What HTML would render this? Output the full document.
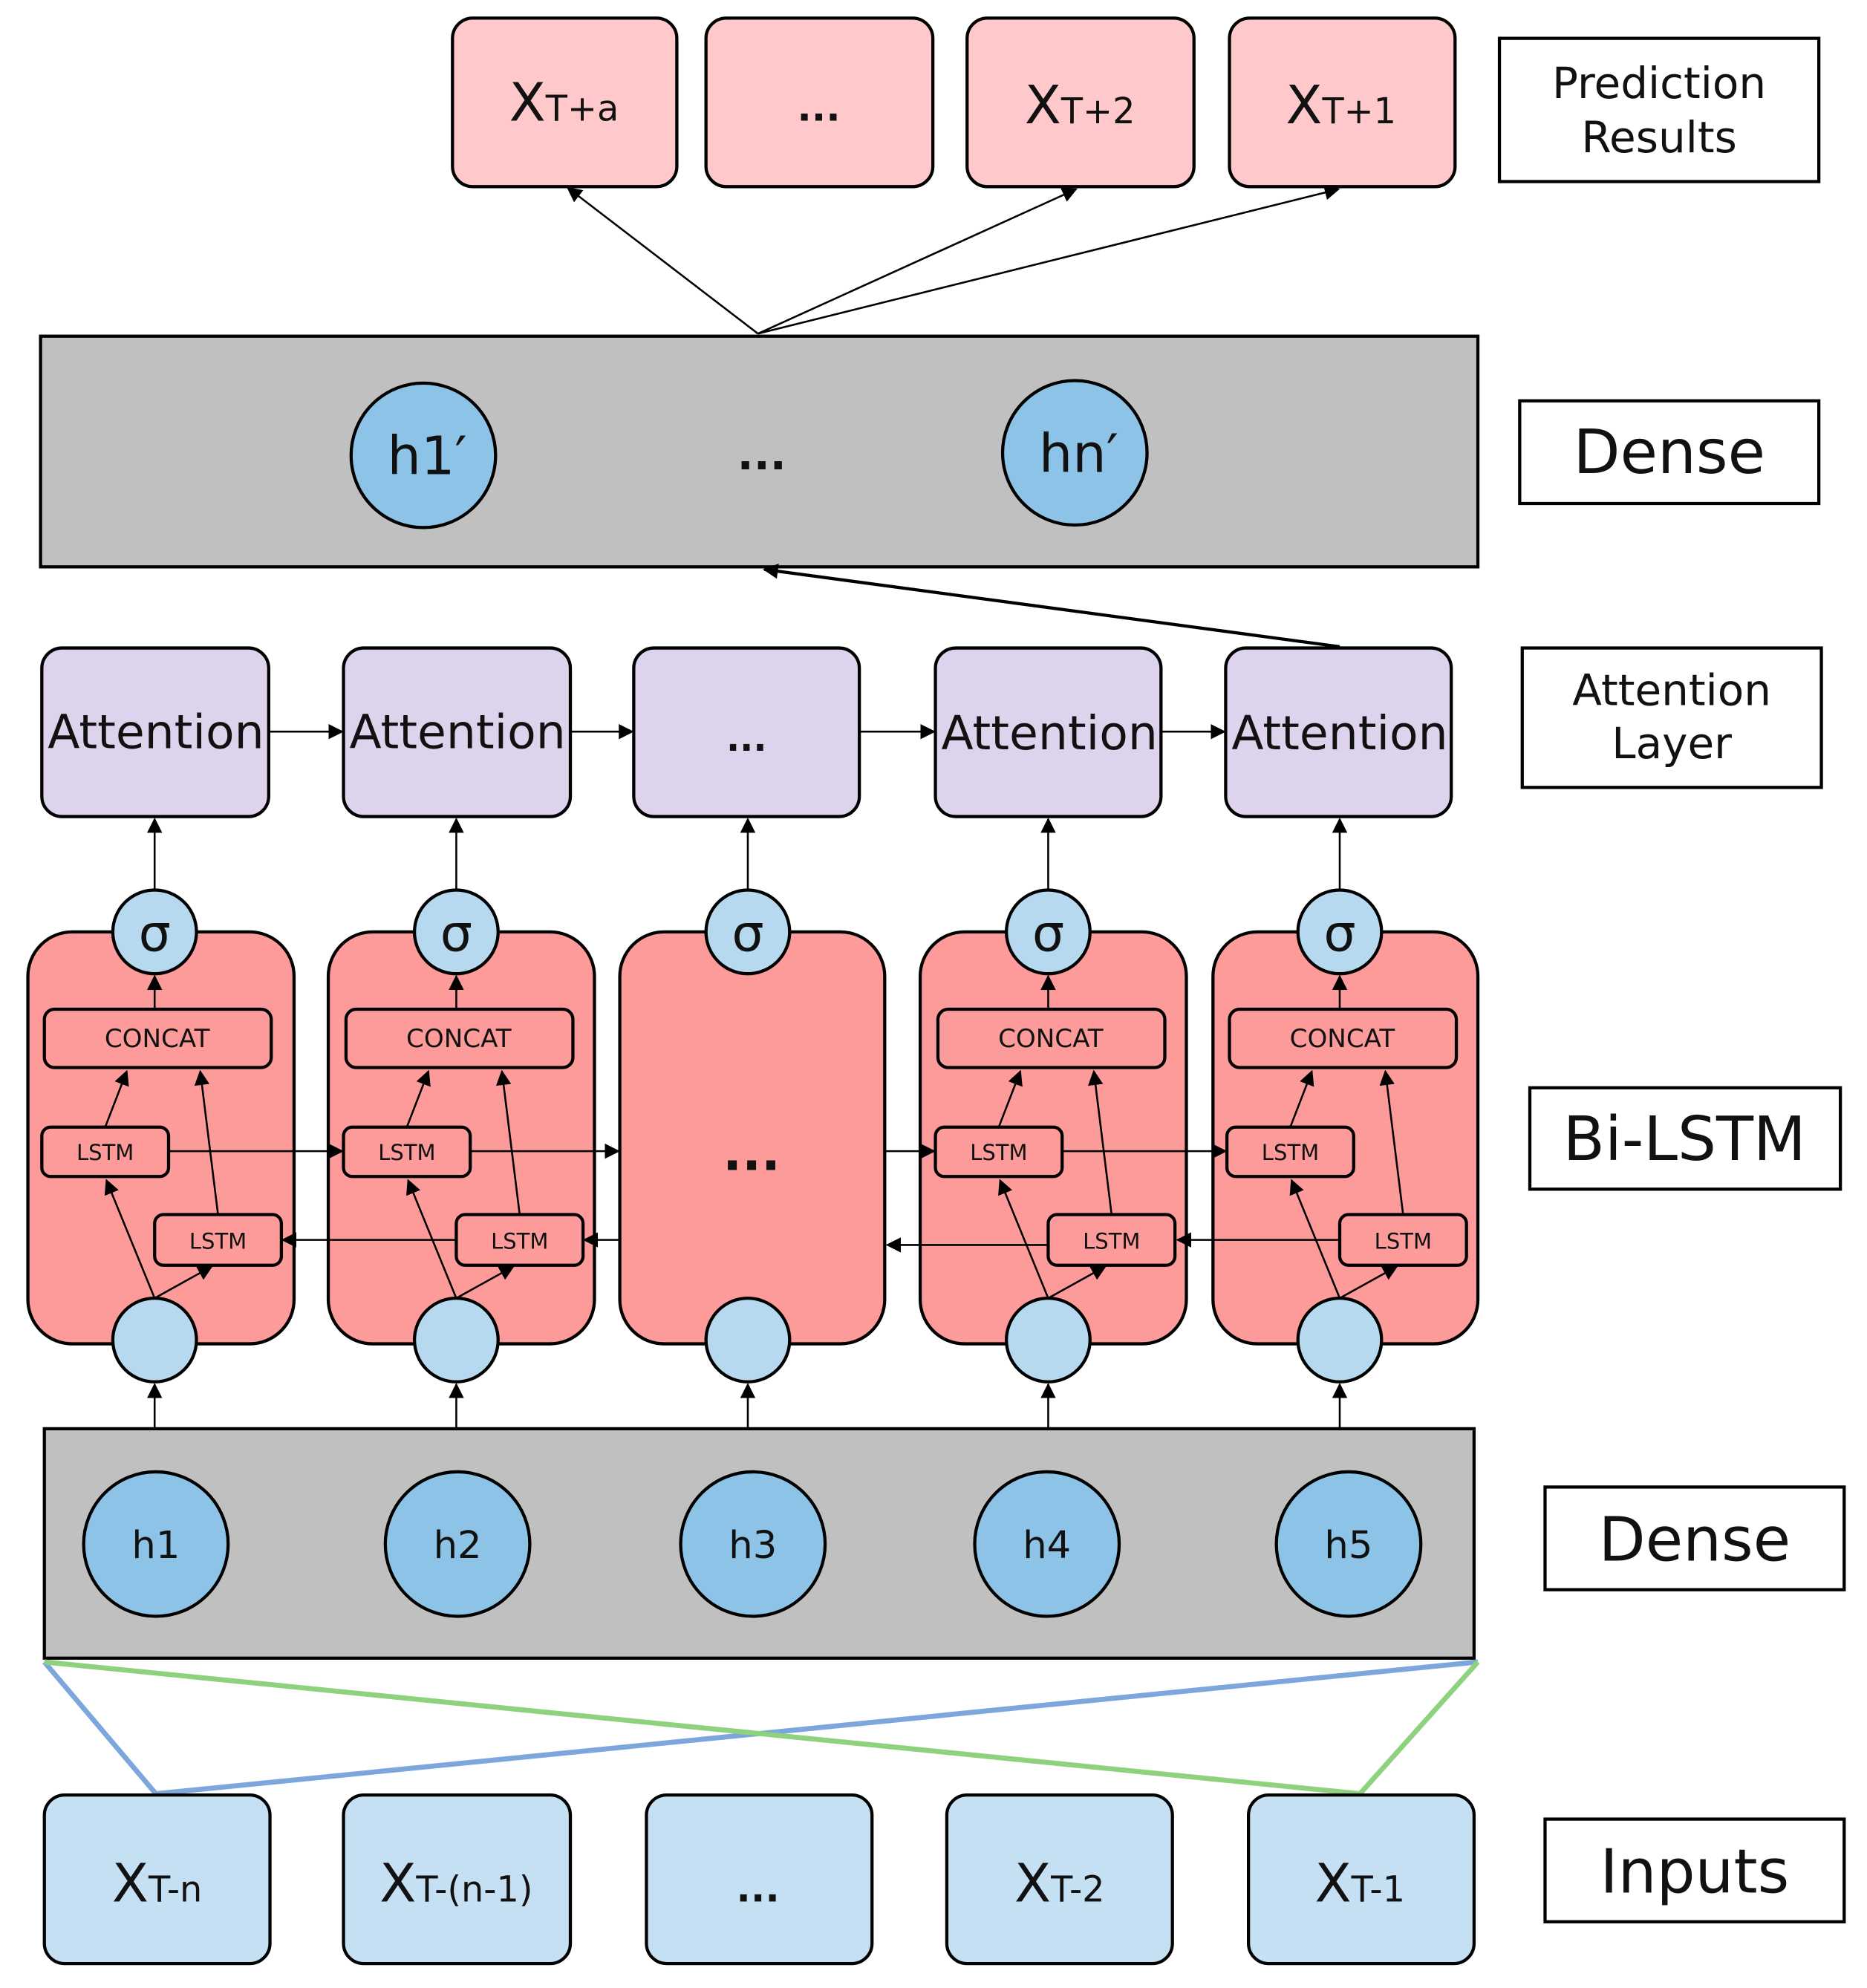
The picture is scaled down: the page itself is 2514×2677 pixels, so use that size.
<!DOCTYPE html>
<html><head><meta charset="utf-8"><style>
html,body{margin:0;padding:0;background:#fff;}
svg{display:block;}
text{font-family:"DejaVu Sans","Liberation Sans",sans-serif;fill:#111;}
.d{font-weight:bold;}
</style></head><body>
<svg width="2514" height="2677" viewBox="0 0 1473 1568" xmlns="http://www.w3.org/2000/svg">
<defs>
<marker id="b" viewBox="0 0 10 10" refX="9" refY="5" markerWidth="12" markerHeight="12" orient="auto" markerUnits="userSpaceOnUse"><path d="M0,0L10,5L0,10z" fill="#000"/></marker>
</defs>
<g stroke="#000" stroke-width="2.5" fill="#ffc9cb">
<rect x="357" y="14" width="177" height="133" rx="16"/>
<rect x="557" y="14" width="179" height="133" rx="16"/>
<rect x="763" y="14" width="179" height="133" rx="16"/>
<rect x="970" y="14" width="178" height="133" rx="16"/>
</g>
<text x="445" y="95" font-size="42" text-anchor="middle">X<tspan font-size="28">T+a</tspan></text>
<text class="d" x="646" y="95" font-size="30" text-anchor="middle">...</text>
<text x="852" y="97" font-size="42" text-anchor="middle">X<tspan font-size="28">T+2</tspan></text>
<text x="1058" y="97" font-size="42" text-anchor="middle">X<tspan font-size="28">T+1</tspan></text>
<g fill="#fff" stroke="#000" stroke-width="2.5">
<rect x="1183" y="30" width="252" height="113"/>
<rect x="1199" y="316" width="236" height="81"/>
<rect x="1201" y="511" width="236" height="110"/>
<rect x="1207" y="858" width="245" height="80"/>
<rect x="1219" y="1173" width="236" height="81"/>
<rect x="1219" y="1435" width="236" height="81"/>
</g>
<text x="1309" y="77" font-size="34" text-anchor="middle">Prediction</text>
<text x="1309" y="120" font-size="34" text-anchor="middle">Results</text>
<text x="1317" y="373" font-size="48" text-anchor="middle">Dense</text>
<text x="1319" y="556" font-size="34" text-anchor="middle">Attention</text>
<text x="1319" y="598" font-size="34" text-anchor="middle">Layer</text>
<text x="1329" y="915" font-size="48" text-anchor="middle">Bi-LSTM</text>
<text x="1337" y="1231" font-size="48" text-anchor="middle">Dense</text>
<text x="1337" y="1493" font-size="48" text-anchor="middle">Inputs</text>
<g stroke="#000" stroke-width="1.5" marker-end="url(#b)">
<line x1="598" y1="263" x2="448" y2="148"/>
<line x1="598" y1="263" x2="849" y2="149"/>
<line x1="598" y1="263" x2="1056" y2="149"/>
</g>
<rect x="32" y="265" width="1134" height="182" fill="#c0c0c0" stroke="#000" stroke-width="2.5"/>
<circle cx="334" cy="359" r="57" fill="#8dc3e6" stroke="#000" stroke-width="2.5"/>
<circle cx="848" cy="357" r="57" fill="#8dc3e6" stroke="#000" stroke-width="2.5"/>
<text x="337" y="374" font-size="42" text-anchor="middle">h1′</text>
<text x="851" y="372" font-size="42" text-anchor="middle">hn′</text>
<text class="d" x="601" y="370" font-size="34" text-anchor="middle">...</text>
<line x1="1057" y1="510" x2="603" y2="449" stroke="#000" stroke-width="2.5" marker-end="url(#b)"/>
<g stroke="#000" stroke-width="2.5" fill="#ddd3ec">
<rect x="33" y="511" width="179" height="133" rx="16"/>
<rect x="271" y="511" width="179" height="133" rx="16"/>
<rect x="500" y="511" width="178" height="133" rx="16"/>
<rect x="738" y="511" width="178" height="133" rx="16"/>
<rect x="967" y="511" width="178" height="133" rx="16"/>
</g>
<g font-size="37" text-anchor="middle">
<text x="123" y="590">Attention</text>
<text x="361" y="590">Attention</text>
<text class="d" x="589" y="592" font-size="28">...</text>
<text x="828" y="591">Attention</text>
<text x="1057" y="591">Attention</text>
</g>
<g stroke="#000" stroke-width="1.5" marker-end="url(#b)">
<line x1="212" y1="577" x2="270" y2="577"/>
<line x1="450" y1="577" x2="499" y2="577"/>
<line x1="678" y1="577" x2="737" y2="577"/>
<line x1="916" y1="577" x2="966" y2="577"/>
</g>
<g stroke="#000" stroke-width="2.5" fill="#fd9a9a">
<rect x="22" y="735" width="210" height="325" rx="35"/>
<rect x="259" y="735" width="210" height="325" rx="35"/>
<rect x="489" y="735" width="209" height="325" rx="35"/>
<rect x="726" y="735" width="210" height="325" rx="35"/>
<rect x="957" y="735" width="209" height="325" rx="35"/>
</g>
<text class="d" x="593" y="923" font-size="40" text-anchor="middle">...</text>
<g id="c1">
<g stroke="#000" stroke-width="1.5">
<line x1="122" y1="702" x2="122" y2="646" marker-end="url(#b)"/>
<line x1="122" y1="796" x2="122" y2="770" marker-end="url(#b)"/>
<line x1="83" y1="889" x2="100" y2="845" marker-end="url(#b)"/>
<line x1="172" y1="958" x2="158" y2="845" marker-end="url(#b)"/>
<line x1="122" y1="1024" x2="84" y2="931" marker-end="url(#b)"/>
<line x1="122" y1="1024" x2="167" y2="999" marker-end="url(#b)"/>
<line x1="122" y1="1127" x2="122" y2="1092" marker-end="url(#b)"/>
</g>
<g stroke="#000" stroke-width="2.5" fill="#fd9a9a">
<rect x="35" y="796" width="179" height="46" rx="8"/>
<rect x="33" y="889" width="100" height="39" rx="7"/>
<rect x="122" y="958" width="100" height="40" rx="7"/>
</g>
<text x="124" y="826" font-size="20" text-anchor="middle">CONCAT</text>
<text x="83" y="915" font-size="17" text-anchor="middle">LSTM</text>
<text x="172" y="985" font-size="17" text-anchor="middle">LSTM</text>
<g fill="#b6d9ef" stroke="#000" stroke-width="2.5">
<circle cx="122" cy="735" r="33"/>
<circle cx="122" cy="1057" r="33"/>
</g>
<text x="122" y="750" font-size="40" text-anchor="middle">σ</text>
</g>
<use href="#c1" transform="translate(238,0)"/>
<use href="#c1" transform="translate(705,0)"/>
<use href="#c1" transform="translate(935,0)"/>
<g stroke="#000" stroke-width="1.5">
<line x1="590" y1="702" x2="590" y2="646" marker-end="url(#b)"/>
<line x1="590" y1="1127" x2="590" y2="1092" marker-end="url(#b)"/>
</g>
<g fill="#b6d9ef" stroke="#000" stroke-width="2.5">
<circle cx="590" cy="735" r="33"/>
<circle cx="590" cy="1057" r="33"/>
</g>
<text x="590" y="750" font-size="40" text-anchor="middle">σ</text>
<g stroke="#000" stroke-width="1.5" marker-end="url(#b)">
<line x1="133" y1="908" x2="270" y2="908"/>
<line x1="371" y1="908" x2="488" y2="908"/>
<line x1="698" y1="908" x2="737" y2="908"/>
<line x1="838" y1="908" x2="967" y2="908"/>
<line x1="359" y1="978" x2="223" y2="978"/>
<line x1="489" y1="978" x2="461" y2="978"/>
<line x1="827" y1="982" x2="700" y2="982"/>
<line x1="1057" y1="978" x2="929" y2="978"/>
</g>
<rect x="35" y="1127" width="1128" height="181" fill="#c0c0c0" stroke="#000" stroke-width="2.5"/>
<g fill="#8dc3e6" stroke="#000" stroke-width="2.5">
<circle cx="123" cy="1218" r="57"/>
<circle cx="361" cy="1218" r="57"/>
<circle cx="594" cy="1218" r="57"/>
<circle cx="826" cy="1218" r="57"/>
<circle cx="1064" cy="1218" r="57"/>
</g>
<g font-size="30" text-anchor="middle">
<text x="123" y="1229">h1</text>
<text x="361" y="1229">h2</text>
<text x="594" y="1229">h3</text>
<text x="826" y="1229">h4</text>
<text x="1064" y="1229">h5</text>
</g>
<polyline points="35,1311 123,1415 1166,1311" fill="none" stroke="#7da7dc" stroke-width="4"/>
<polyline points="35,1311 1073,1415 1166,1311" fill="none" stroke="#8fd27e" stroke-width="4"/>
<g stroke="#000" stroke-width="2.5" fill="#c5e0f3">
<rect x="35" y="1416" width="178" height="133" rx="16"/>
<rect x="271" y="1416" width="179" height="133" rx="16"/>
<rect x="510" y="1416" width="178" height="133" rx="16"/>
<rect x="747" y="1416" width="178" height="133" rx="16"/>
<rect x="985" y="1416" width="178" height="133" rx="16"/>
</g>
<text x="124" y="1500" font-size="42" text-anchor="middle">X<tspan font-size="28">T-n</tspan></text>
<text x="360" y="1500" font-size="42" text-anchor="middle">X<tspan font-size="28">T-(n-1)</tspan></text>
<text class="d" x="598" y="1500" font-size="30" text-anchor="middle">...</text>
<text x="836" y="1500" font-size="42" text-anchor="middle">X<tspan font-size="28">T-2</tspan></text>
<text x="1073" y="1500" font-size="42" text-anchor="middle">X<tspan font-size="28">T-1</tspan></text>
</svg>
</body></html>
